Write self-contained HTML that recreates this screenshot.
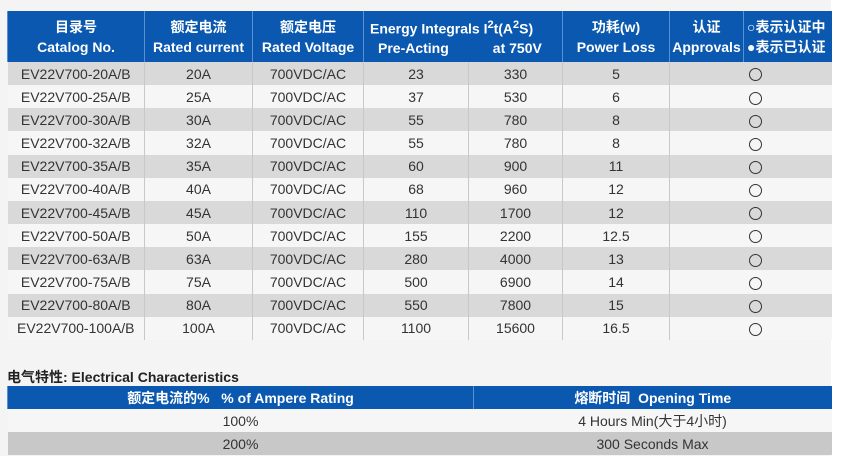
<!DOCTYPE html>
<html><head><meta charset="utf-8"><style>
body{margin:0;width:848px;height:465px;background:#fff;overflow:hidden;font-family:"Liberation Sans","Noto Sans CJK SC",sans-serif;}
#bg{position:absolute;left:0;top:0;width:831px;height:456px;background:#f4f4f4;}
table{position:absolute;border-collapse:collapse;table-layout:fixed;color:#333;}
td{text-align:center;font-size:14px;padding:0;white-space:nowrap;overflow:hidden;border-left:1px solid #c8c8c8;}
td:first-child{border-left:none;}
.h td{background:#0a58b0;color:#fff;font-weight:bold;font-size:14px;border-left:1px solid #5a8fd0;line-height:20px;}
#t1 tr.r td{height:23.17px;}
#t1 tr.r:nth-child(odd) td{background:#f6f6f6;}
#t1 tr.r:nth-child(even) td{background:#d9d9d9;}
#t2 td{height:23px;}
.c{padding-left:10px;}
.c i{display:inline-block;width:11px;height:11px;border:1px solid #333;border-radius:50%;vertical-align:middle;}
</style></head><body>
<div id="bg"></div>
<table id="t1" style="left:7px;top:11px;width:824px;">
<colgroup><col style="width:137px"><col style="width:108px"><col style="width:111px"><col style="width:105px"><col style="width:94px"><col style="width:107px"><col style="width:74px"><col style="width:88px"></colgroup>
<tr class="h"><td style="height:51px">目录号<br>Catalog No.</td><td>额定电流<br>Rated current</td><td>额定电压<br>Rated Voltage</td><td colspan="2" style="text-align:left;padding-left:6px">Energy Integrals I<sup style="font-size:11px">2</sup>t(A<sup style="font-size:11px">2</sup>S)<br><span style="padding-left:8px">Pre-Acting</span><span style="padding-left:44px">at 750V</span></td><td>功耗(w)<br>Power Loss</td><td>认证<br>Approvals</td><td style="text-align:left;padding-left:3px">○表示认证中<br>●表示已认证</td></tr>
<tr class="r"><td>EV22V700-20A/B</td><td>20A</td><td>700VDC/AC</td><td>23</td><td>330</td><td>5</td><td colspan="2" class="c"><i></i></td></tr>
<tr class="r"><td>EV22V700-25A/B</td><td>25A</td><td>700VDC/AC</td><td>37</td><td>530</td><td>6</td><td colspan="2" class="c"><i></i></td></tr>
<tr class="r"><td>EV22V700-30A/B</td><td>30A</td><td>700VDC/AC</td><td>55</td><td>780</td><td>8</td><td colspan="2" class="c"><i></i></td></tr>
<tr class="r"><td>EV22V700-32A/B</td><td>32A</td><td>700VDC/AC</td><td>55</td><td>780</td><td>8</td><td colspan="2" class="c"><i></i></td></tr>
<tr class="r"><td>EV22V700-35A/B</td><td>35A</td><td>700VDC/AC</td><td>60</td><td>900</td><td>11</td><td colspan="2" class="c"><i></i></td></tr>
<tr class="r"><td>EV22V700-40A/B</td><td>40A</td><td>700VDC/AC</td><td>68</td><td>960</td><td>12</td><td colspan="2" class="c"><i></i></td></tr>
<tr class="r"><td>EV22V700-45A/B</td><td>45A</td><td>700VDC/AC</td><td>110</td><td>1700</td><td>12</td><td colspan="2" class="c"><i></i></td></tr>
<tr class="r"><td>EV22V700-50A/B</td><td>50A</td><td>700VDC/AC</td><td>155</td><td>2200</td><td>12.5</td><td colspan="2" class="c"><i></i></td></tr>
<tr class="r"><td>EV22V700-63A/B</td><td>63A</td><td>700VDC/AC</td><td>280</td><td>4000</td><td>13</td><td colspan="2" class="c"><i></i></td></tr>
<tr class="r"><td>EV22V700-75A/B</td><td>75A</td><td>700VDC/AC</td><td>500</td><td>6900</td><td>14</td><td colspan="2" class="c"><i></i></td></tr>
<tr class="r"><td>EV22V700-80A/B</td><td>80A</td><td>700VDC/AC</td><td>550</td><td>7800</td><td>15</td><td colspan="2" class="c"><i></i></td></tr>
<tr class="r"><td>EV22V700-100A/B</td><td>100A</td><td>700VDC/AC</td><td>1100</td><td>15600</td><td>16.5</td><td colspan="2" class="c"><i></i></td></tr>
</table>
<div style="position:absolute;left:7px;top:367px;font-size:14px;font-weight:bold;color:#222;">电气特性: Electrical Characteristics</div>
<table id="t2" style="left:7px;top:386px;width:824px;">
<colgroup><col style="width:466px"><col style="width:358px"></colgroup>
<tr class="h"><td>额定电流的%&nbsp;&nbsp; % of Ampere Rating</td><td>熔断时间&nbsp; Opening Time</td></tr>
<tr><td style="background:#f6f6f6;border:none">100%</td><td style="background:#f6f6f6;border:none">4 Hours Min(大于4小时)</td></tr>
<tr><td style="background:#c8c8c8;border:none">200%</td><td style="background:#c8c8c8;border:none">300 Seconds Max</td></tr>
</table>
</body></html>
